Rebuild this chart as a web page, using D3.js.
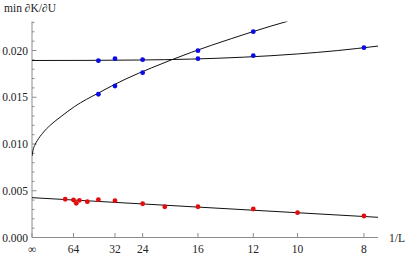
<!DOCTYPE html>
<html>
<head>
<meta charset="utf-8">
<script src="https://cdn.jsdelivr.net/npm/d3@7"></script>
<style>
  body { margin: 0; background: #fff; }
  svg { display: block; }
</style>
</head>
<body>
<svg id="chart" width="407" height="255"></svg>
<script>
// x is 1/L
const xTickLabels = ["∞", "64", "32", "24", "16", "12", "10", "8"];
const xTickValues = [0, 1/64, 1/32, 1/24, 1/16, 1/12, 1/10, 1/8];

// blue, nearly flat series
const flatL = [40, 32, 24, 16, 12, 8];
const flatVals = [0.01891, 0.01912, 0.01902, 0.01912, 0.01944, 0.02030];
// blue, rising series
const riseL = [40, 32, 24, 16, 12];
const riseVals = [0.01532, 0.01620, 0.01763, 0.01998, 0.02201];
// red series
const redL = [80, 64, 60, 56, 48, 40, 32, 24, 20, 16, 12, 10, 8];
const redVals = [0.00409, 0.00401, 0.00366, 0.00398, 0.00383, 0.00404, 0.00394,
                 0.00361, 0.00329, 0.00329, 0.00305, 0.00265, 0.00230];

// fit curves at sample x = 1/L
const flatFitX = [0, 0.02, 0.04, 0.06, 0.08, 0.10, 0.115, 0.1303];
const flatFitY = [0.01893, 0.01894, 0.01898, 0.01908, 0.01929, 0.01963, 0.01999, 0.02047];
const riseFitX = [0, 0.0005, 0.001, 0.002, 0.004, 0.007, 0.011, 0.016, 0.025, 0.035, 0.045, 0.06, 0.075, 0.09, 0.0962];
const riseFitY = [0.00872, 0.00948, 0.00984, 0.01037, 0.01115, 0.01204, 0.01295, 0.01400, 0.01545, 0.01691, 0.01814, 0.01980, 0.02126, 0.02261, 0.02312];
const redFitX = [0, 0.1303];
const redFitY = [0.00426, 0.00216];

const svg = d3.select("#chart");
const m = { left: 32, right: 378, top: 21.5, bottom: 237.5 };

const x = d3.scaleLinear().domain([0, 0.1303]).range([m.left, m.right]);
const y = d3.scaleLinear().domain([0, 0.0231]).range([m.bottom, m.top]);

const axisColor = "#8c8c8c";
const textColor = "#222";
const serif = "Liberation Serif";

svg.append("defs").append("clipPath").attr("id", "clip")
  .append("rect")
    .attr("x", m.left).attr("y", m.top)
    .attr("width", m.right - m.left).attr("height", m.bottom - m.top);

// Y axis
const yAxis = svg.append("g").attr("transform", `translate(${m.left},0)`);
yAxis.append("line")
  .attr("x1", 0).attr("x2", 0).attr("y1", m.bottom).attr("y2", m.top)
  .attr("stroke", axisColor);
const minor = d3.range(0, 24).map(i => i * 0.001).filter(v => v <= 0.0231);
yAxis.selectAll(".ytick")
  .data(minor)
  .join("line")
    .attr("class", "ytick")
    .attr("x1", 0)
    .attr("x2", (d, i) => i % 5 === 0 ? 4.5 : 2.5)
    .attr("y1", d => y(d)).attr("y2", d => y(d))
    .attr("stroke", axisColor);
yAxis.selectAll(".ylabel")
  .data([0, 0.005, 0.010, 0.015, 0.020])
  .join("text")
    .attr("class", "ylabel")
    .attr("x", -4)
    .attr("y", d => y(d))
    .attr("dy", "0.35em")
    .attr("text-anchor", "end")
    .attr("font-family", serif)
    .style("font-size", "11.5px")
    .attr("fill", textColor)
    .text(d3.format(".3f"));

// X axis
const xAxis = svg.append("g");
xAxis.append("line")
  .attr("x1", m.left).attr("x2", m.right).attr("y1", m.bottom).attr("y2", m.bottom)
  .attr("stroke", axisColor);
xAxis.selectAll(".xtick")
  .data(xTickValues)
  .join("line")
    .attr("class", "xtick")
    .attr("x1", d => x(d)).attr("x2", d => x(d))
    .attr("y1", m.bottom).attr("y2", m.bottom - 4.5)
    .attr("stroke", axisColor);
xAxis.selectAll(".xlabel")
  .data(xTickValues)
  .join("text")
    .attr("class", "xlabel")
    .attr("x", d => x(d))
    .attr("y", m.bottom + 15)
    .attr("text-anchor", "middle")
    .attr("font-family", serif)
    .style("font-size", "11.5px")
    .attr("fill", textColor)
    .text((d, i) => xTickLabels[i]);

// axis labels
svg.append("text")
  .attr("x", 4).attr("y", 12)
  .attr("font-family", serif)
  .style("font-size", "11.5px")
  .attr("fill", textColor)
  .text("min ∂K/∂U");
svg.append("text")
  .attr("x", 389).attr("y", m.bottom + 4)
  .attr("font-family", serif)
  .style("font-size", "11.5px")
  .attr("fill", textColor)
  .text("1/L");

// fit curves
const plot = svg.append("g").attr("clip-path", "url(#clip)");
const line = d3.line().x(d => x(d[0])).y(d => y(d[1])).curve(d3.curveMonotoneX);
[[flatFitX, flatFitY], [riseFitX, riseFitY], [redFitX, redFitY]].forEach(([xs, ys]) => {
  plot.append("path")
    .datum(xs.map((v, i) => [v, ys[i]]))
    .attr("d", line)
    .attr("fill", "none")
    .attr("stroke", "#111")
    .attr("stroke-width", 1);
});

// points
const drawPoints = (ls, vals, color) => {
  svg.append("g").selectAll("circle")
    .data(ls.map((l, i) => [1 / l, vals[i]]))
    .join("circle")
      .attr("cx", d => x(d[0]))
      .attr("cy", d => y(d[1]))
      .attr("r", 2.4)
      .attr("fill", color);
};
drawPoints(flatL, flatVals, "#0a0ae6");
drawPoints(riseL, riseVals, "#0a0ae6");
drawPoints(redL, redVals, "#e60a0a");
</script>
</body>
</html>
